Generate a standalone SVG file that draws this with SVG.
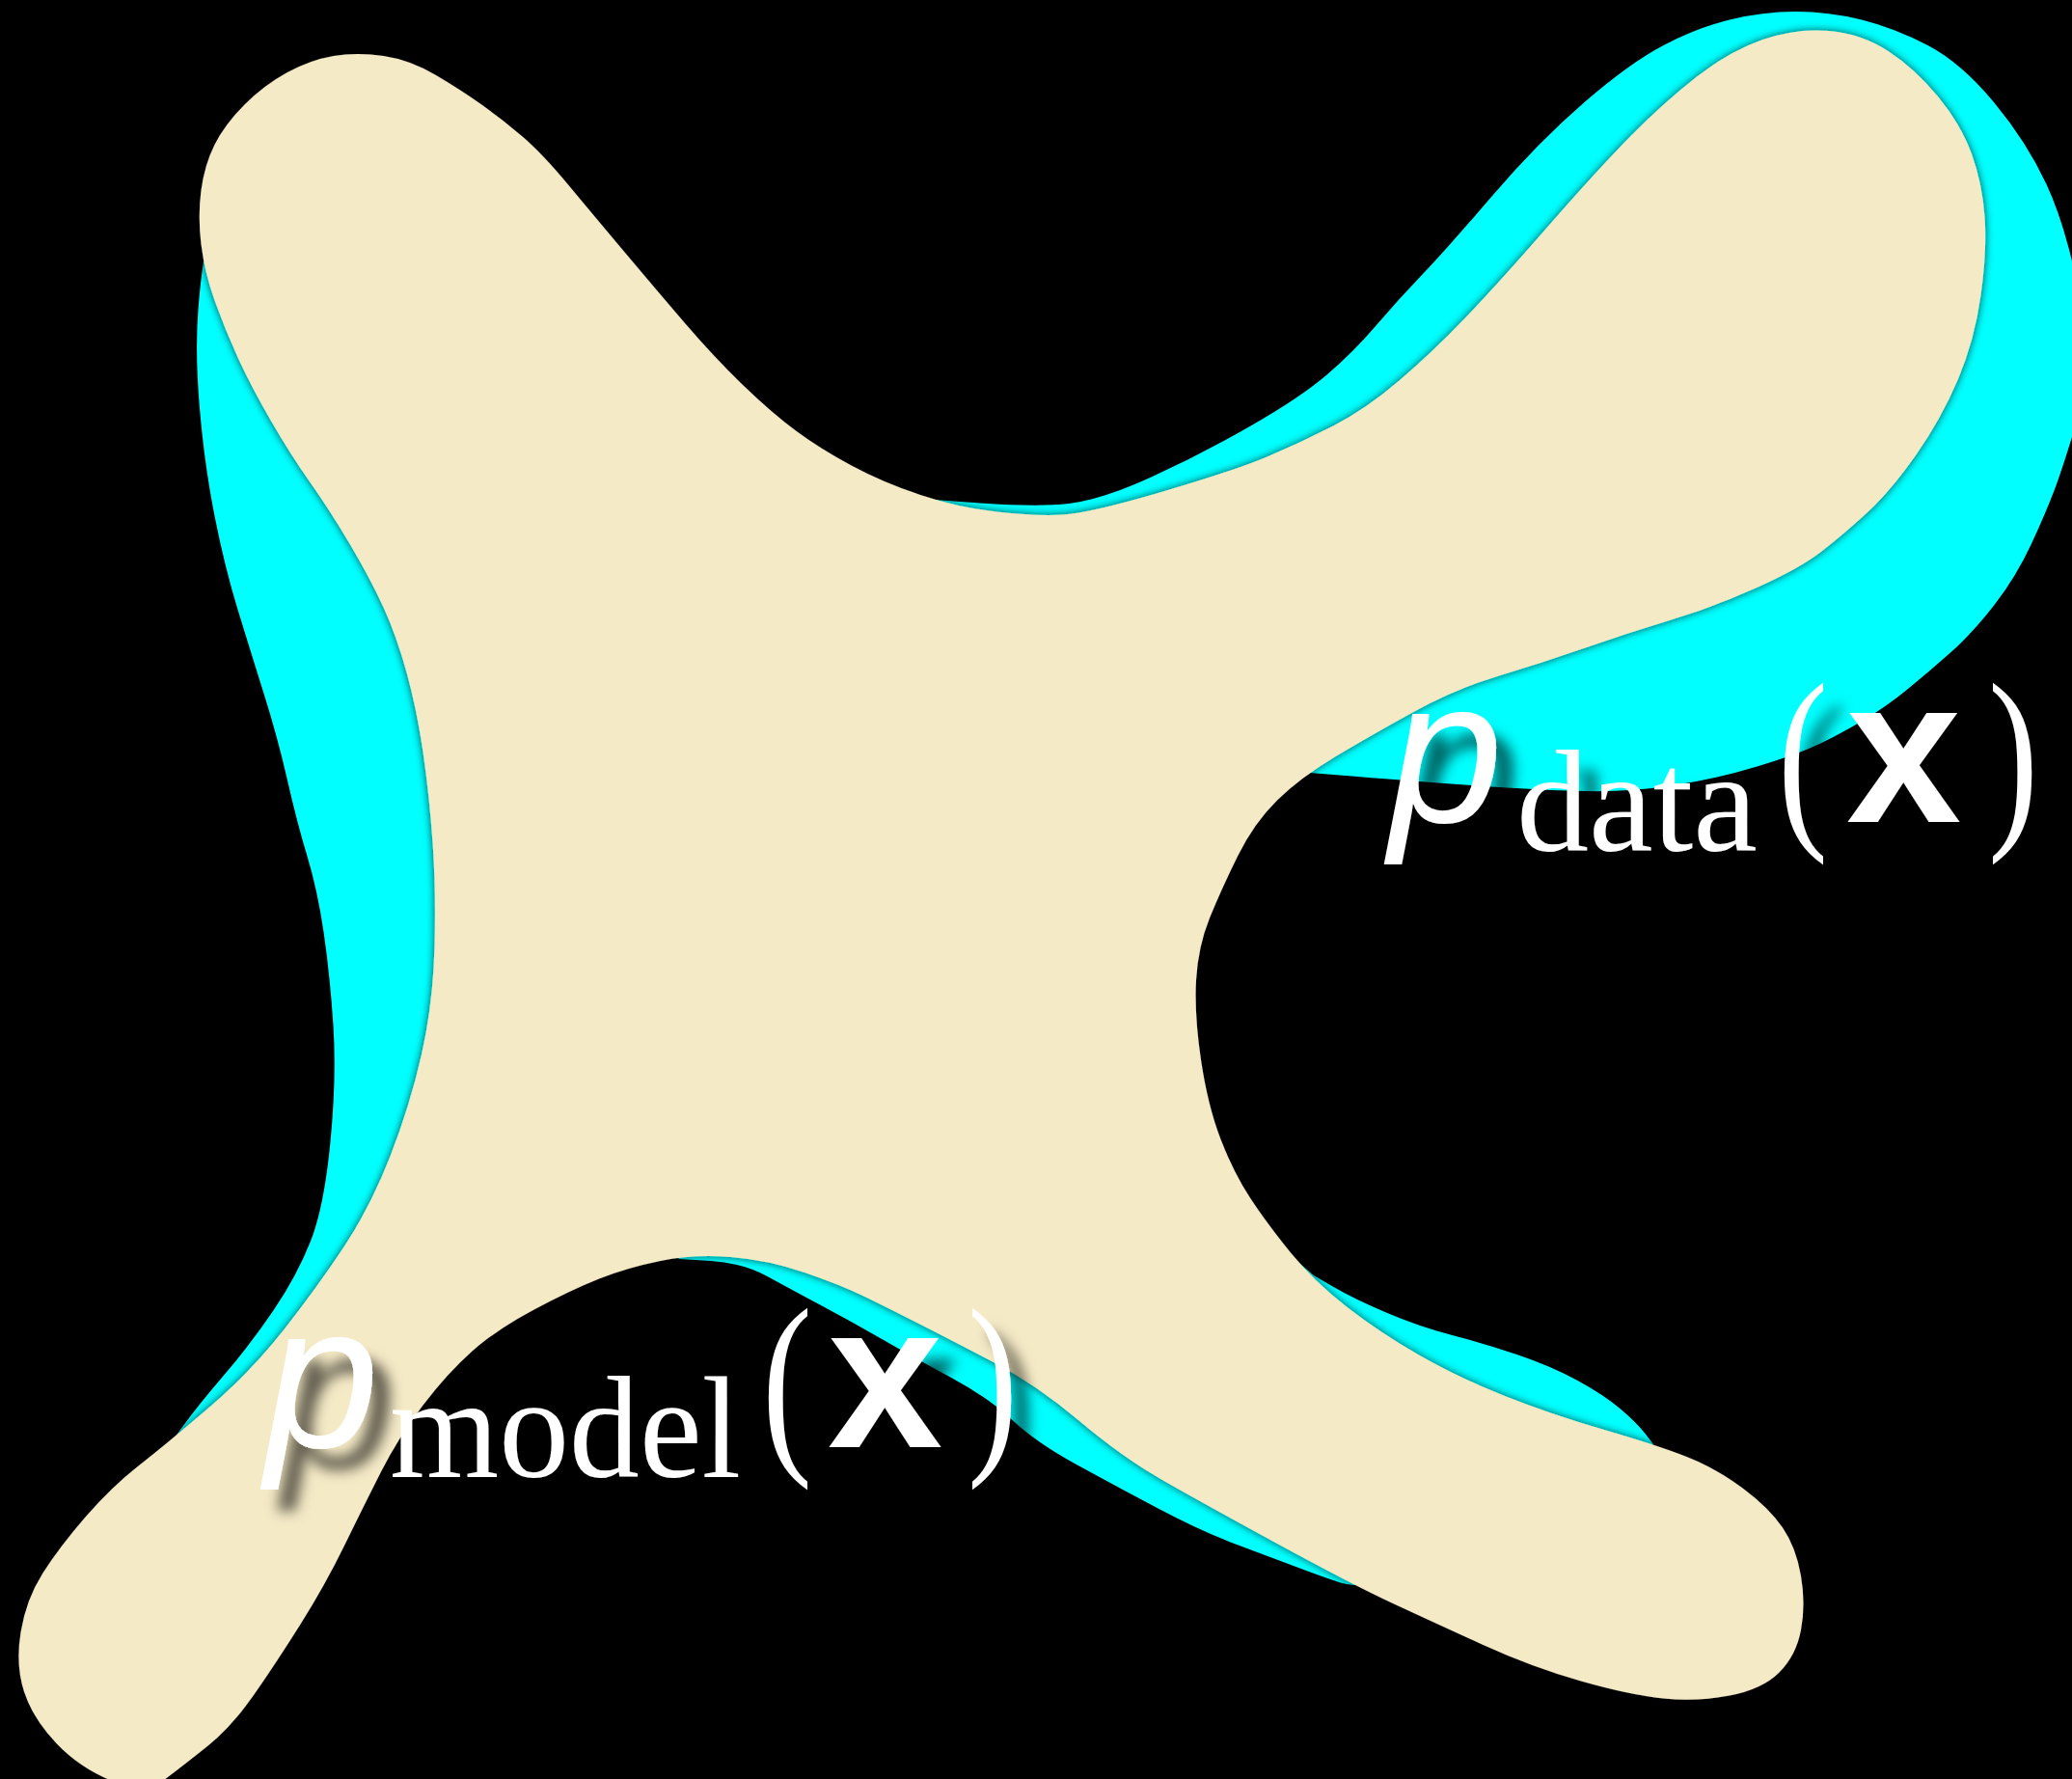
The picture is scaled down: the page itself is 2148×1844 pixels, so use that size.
<svg xmlns="http://www.w3.org/2000/svg" width="2148" height="1844" viewBox="0 0 2148 1844">
<defs>
<style>
.bg{fill:#000}
.cyan{fill:#00FFFF}
.beige{fill:#F5EAC6;filter:url(#edge)}
.lbl{fill:#fff;filter:url(#tshadow)}
.pi{font-family:"Liberation Sans",Arial,sans-serif;font-style:italic;font-size:212px}
.sub{font-family:"Liberation Serif","Times New Roman",serif;font-size:150px}
.par{font-family:"Liberation Serif","Times New Roman",serif;font-size:208px}
.bx{font-family:"Liberation Sans",Arial,sans-serif;font-weight:bold;font-size:214px}
</style>
<filter id="edge" x="-5%" y="-5%" width="110%" height="110%">
<feDropShadow dx="0" dy="0" stdDeviation="4" flood-color="#000" flood-opacity="0.7"/>
</filter>
<filter id="tshadow" x="-20%" y="-20%" width="140%" height="150%">
<feDropShadow dx="18" dy="22" stdDeviation="7" flood-color="#000" flood-opacity="0.6"/>
</filter>
</defs>
<rect class="bg" x="0" y="0" width="2148" height="1844"/>
<g id="p-data-region">
<path class="cyan" d="M930,515 L1002,520.5 Q1074,526 1108,522 Q1142,518 1193.5,494.5 Q1245,471 1296.5,441.5 Q1348,412 1375.5,388.5 Q1403,365 1426.5,337.5 Q1450,310 1474.5,284.5 Q1499,259 1547,203 Q1595,147 1642.5,106 Q1690,65 1724.5,47 Q1759,29 1793,20.5 Q1827,12 1861.5,12 Q1896,12 1930,20.5 Q1964,29 1998.5,47 Q2033,65 2067,106 Q2101,147 2121.5,191 Q2142,235 2156,307.5 Q2170,380 2155,430 Q2140,480 2131,504.5 Q2122,529 2106,563.5 Q2090,598 2067.5,627 Q2045,656 2022.5,676 Q2000,696 1978,714 Q1956,732 1933.5,745.5 Q1911,759 1888.5,770 Q1866,781 1821.5,794.5 Q1777,808 1732.5,814.5 Q1688,821 1643.5,820 Q1599,819 1554,816 Q1509,813 1464.5,809.5 Q1420,806 1382.5,803 L1345,800 L1317.5,825 Q1290,850 1257.5,905 Q1225,960 1220,1010 Q1215,1060 1225,1110 Q1235,1160 1262.5,1210 Q1290,1260 1326,1291 L1362,1322 L1382.5,1334 Q1403,1346 1437,1360.5 Q1471,1375 1505.5,1384 Q1540,1393 1574,1404.5 Q1608,1416 1635.5,1431 Q1663,1446 1680,1460.5 Q1697,1475 1705.5,1486 L1714,1497 L1650,1560 L1500,1620 L1403,1643 L1396,1642 Q1389,1641 1351.5,1627 Q1314,1613 1279.5,1600 Q1245,1587 1200.5,1563.5 Q1156,1540 1115,1517.5 Q1074,1495 1049.5,1472 Q1025,1449 987,1428.5 Q949,1408 916,1389 Q883,1370 852,1353.5 Q821,1337 795.5,1323 Q770,1309 737,1307 L704,1305 L690,1292 L600,1310 L500,1360 L420,1420 L300,1480 L171,1504 L188,1480.5 Q205,1457 232.5,1425 Q260,1393 284,1357.5 Q308,1322 322,1286.5 Q336,1251 342.5,1183.5 Q349,1116 345.5,1063 Q342,1010 335.5,966 Q329,922 318.5,887.5 Q308,853 298,809 Q288,765 274,720.5 Q260,676 246.5,632 Q233,588 222.5,535 Q212,482 207,423.5 Q202,365 205.5,320.5 Q209,276 215,250 L260,200 L400,150 L560,250 L700,380 L820,470 Z"/>
</g>
<g id="p-model-region">
<path class="beige" d="M208.5,253 Q205,224 208.5,197.5 Q212,171 222.5,150 Q233,129 253.5,108.5 Q274,88 298,75 Q322,62 346,58 Q370,54 397.5,58 Q425,62 452,78 Q479,94 500,109 Q521,124 541.5,141.5 Q562,159 589,191.5 Q616,224 648,262 Q680,300 710,335 Q740,370 770,399 Q800,428 825,446.5 Q850,465 882.5,482.5 Q915,500 954,513 Q993,526 1033.5,530.5 Q1074,535 1101.5,533.5 Q1129,532 1204,510 Q1279,488 1313.5,473.5 Q1348,459 1382,441.5 Q1416,424 1450.5,394.5 Q1485,365 1519,329.5 Q1553,294 1604.5,235 Q1656,176 1690.5,141 Q1725,106 1759,79.5 Q1793,53 1827.5,41 Q1862,29 1896,32 Q1930,35 1957.5,53 Q1985,71 2009,100 Q2033,129 2044,159.5 Q2055,190 2057.5,224.5 Q2060,259 2053.5,306 Q2047,353 2029.5,394 Q2012,435 1986,472 Q1960,509 1935.5,531.5 Q1911,554 1888.5,571.5 Q1866,589 1821.5,609 Q1777,629 1732.5,642.5 Q1688,656 1643.5,671.5 Q1599,687 1554,700.5 Q1509,714 1464.5,738.5 Q1420,763 1384,784.5 Q1348,806 1324,829.5 Q1300,853 1283,887.5 Q1266,922 1254,951.5 Q1242,981 1240,1016 Q1238,1051 1245,1098.5 Q1252,1146 1265.5,1181 Q1279,1216 1296.5,1242.5 Q1314,1269 1338,1298.5 Q1362,1328 1396,1354.5 Q1430,1381 1471,1404.5 Q1512,1428 1560,1447 Q1608,1466 1663,1482 Q1718,1498 1748.5,1510 Q1779,1522 1806.5,1542.5 Q1834,1563 1848,1583.5 Q1862,1604 1867,1633.5 Q1872,1663 1867,1689.5 Q1862,1716 1844.5,1733.5 Q1827,1751 1793,1757.5 Q1759,1764 1724.5,1760.5 Q1690,1757 1639,1742.5 Q1588,1728 1536.5,1704.5 Q1485,1681 1444,1662 Q1403,1643 1324,1600 Q1245,1557 1204,1533.5 Q1163,1510 1118.5,1472.5 Q1074,1435 1029,1411.5 Q984,1388 953.5,1372.5 Q923,1357 897.5,1344.5 Q872,1332 834,1319 Q796,1306 757.5,1303 Q719,1300 684.5,1307 Q650,1314 621,1325.5 Q592,1337 553.5,1357.5 Q515,1378 489.5,1400.5 Q464,1423 438.5,1456.5 Q413,1490 395,1525.5 Q377,1561 357,1602 Q337,1643 311.5,1683.5 Q286,1724 263,1757 Q240,1790 215,1810 Q190,1830 170,1845 Q150,1860 116,1846 Q82,1832 58,1806.5 Q34,1781 25,1753.5 Q16,1726 21.5,1692 Q27,1658 44.5,1630.5 Q62,1603 89,1572 Q116,1541 143.5,1519.5 Q171,1498 215.5,1460 Q260,1422 294.5,1378 Q329,1334 356.5,1292.5 Q384,1251 404.5,1198.5 Q425,1146 437,1093 Q449,1040 450.5,981 Q452,922 448.5,873 Q445,824 438.5,779.5 Q432,735 421.5,697 Q411,659 397.5,629.5 Q384,600 363,564.5 Q342,529 321.5,500 Q301,471 280.5,435.5 Q260,400 246.5,370.5 Q233,341 222.5,311.5 Q212,282 208.5,253 Z"/>
</g>
<g id="label-data" class="lbl">
<text class="pi" x="1440" y="852">p</text>
<text class="sub" x="1572" y="882">data</text>
<text class="par" x="1843" y="852" textLength="52" lengthAdjust="spacingAndGlyphs">(</text>
<text class="bx" x="1914" y="852">x</text>
<text class="par" x="2061" y="852" textLength="52" lengthAdjust="spacingAndGlyphs">)</text>
</g>
<g id="label-model" class="lbl">
<text class="pi" x="275" y="1500">p</text>
<text class="sub" x="404" y="1531" textLength="364" lengthAdjust="spacingAndGlyphs">model</text>
<text class="par" x="790" y="1500" textLength="52" lengthAdjust="spacingAndGlyphs">(</text>
<text class="bx" x="858" y="1500">x</text>
<text class="par" x="1003" y="1500" textLength="52" lengthAdjust="spacingAndGlyphs">)</text>
</g>
</svg>
